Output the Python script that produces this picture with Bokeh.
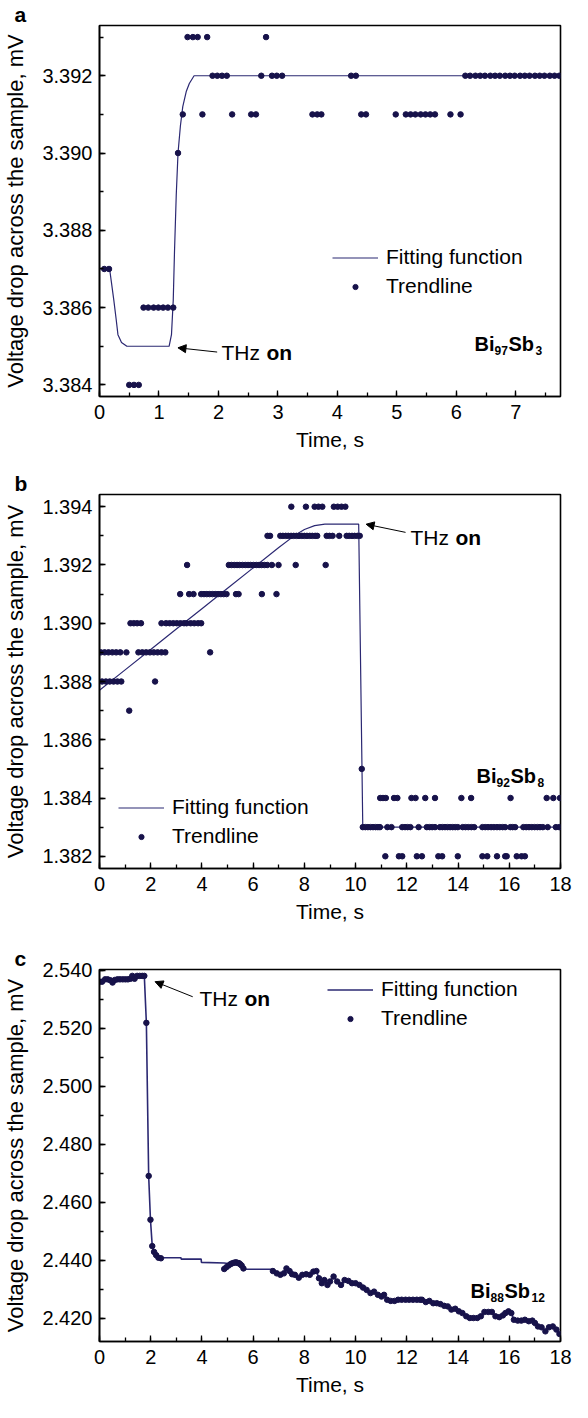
from bokeh.plotting import figure
from bokeh.layouts import column
from bokeh.models import (Range1d, SingleIntervalTicker, PrintfTickFormatter, Legend,
                          LegendItem, Label, Arrow, NormalHead)
from bokeh.embed import file_html
from bokeh.resources import INLINE

FONT = "Liberation Sans"
DOT = "#17124a"
LINE = "#2b2872"

# ---------------- Panel a : Bi97Sb3 ----------------
a_levels = [3.384, 3.386, 3.387, 3.390, 3.391, 3.392, 3.393]
a_times = [
    [0.50, 0.58, 0.66],
    [0.74, 0.82, 0.91, 0.99, 1.07, 1.15, 1.24],
    [0.08, 0.16],
    [1.32],
    [1.40, 1.73, 2.23, 2.55, 2.63, 3.58, 3.66, 3.73, 4.40, 4.48, 4.98, 5.15, 5.23,
     5.31, 5.40, 5.48, 5.56, 5.64, 5.90, 6.07],
    [1.90, 1.98, 2.06, 2.14, 2.72, 2.90, 2.98, 3.07, 4.23, 4.31, 6.15, 6.23, 6.32,
     6.40, 6.48, 6.57, 6.65, 6.73, 6.82, 6.90, 6.98, 7.07, 7.15, 7.23, 7.32, 7.40,
     7.48, 7.57, 7.65, 7.73],
    [1.48, 1.57, 1.65, 1.81, 2.80],
]
a_fit_t = [0.00, 0.17, 0.20, 0.24, 0.28, 0.31, 0.37, 0.46, 1.17, 1.21, 1.24, 1.26,
           1.29, 1.32, 1.36, 1.40, 1.46, 1.51, 1.59, 7.75]
a_fit_v = [3.3870, 3.3870, 3.38666, 3.3862, 3.3857, 3.3853, 3.3851, 3.3850, 3.3850,
           3.3853, 3.3862, 3.3874, 3.3889, 3.3900, 3.3907, 3.3912, 3.3916, 3.3918,
           3.3920, 3.3920]

# ---------------- Panel b : Bi92Sb8 ----------------
b_levels = [1.382, 1.383, 1.384, 1.385, 1.387, 1.388, 1.389, 1.390, 1.391, 1.392,
            1.393, 1.394]
b_times = [
    [11.16, 11.69, 11.82, 12.39, 12.59, 13.23, 13.38, 13.99, 14.95, 15.14, 15.52,
     15.84, 15.90, 16.29, 16.48, 16.61],
    [10.28, 10.38, 10.48, 10.58, 10.68, 10.78, 10.87, 10.95, 11.24, 11.40, 11.82,
     11.93, 12.03, 12.14, 12.46, 12.78, 12.89, 12.99, 13.10, 13.29, 13.39, 13.49,
     13.59, 13.69, 13.79, 13.89, 13.99, 14.18, 14.29, 14.40, 14.52, 14.63, 14.95,
     15.06, 15.17, 15.29, 15.40, 15.52, 15.63, 15.74, 15.84, 16.04, 16.13, 16.23,
     16.55, 16.66, 16.77, 16.88, 16.99, 17.10, 17.20, 17.31, 17.50, 17.82, 17.95],
    [10.96, 11.07, 11.18, 11.50, 11.63, 12.18, 12.34, 12.72, 13.10, 14.13, 14.51,
     16.05, 17.46, 17.72, 17.98],
    [10.24],
    [1.16],
    [0.10, 0.25, 0.40, 0.55, 0.70, 0.85, 2.17],
    [0.05, 0.20, 0.35, 0.50, 0.65, 0.81, 1.05, 1.52, 1.67, 1.82, 1.97, 2.12, 2.27,
     2.42, 2.57, 4.32],
    [1.21, 1.34, 1.47, 1.62, 2.42, 2.60, 2.74, 2.88, 3.02, 3.16, 3.30, 3.40, 3.56,
     3.70, 3.85, 3.97],
    [3.15, 3.50, 3.67, 3.97, 4.08, 4.19, 4.30, 4.41, 4.52, 4.63, 4.74, 4.85, 4.96,
     5.33, 5.43, 6.34, 6.91],
    [3.42, 5.05, 5.15, 5.26, 5.37, 5.47, 5.58, 5.69, 5.80, 5.90, 6.01, 6.12, 6.23,
     6.33, 6.44, 6.55, 6.73, 6.99, 7.66, 8.83],
    [6.56, 6.66, 7.06, 7.16, 7.27, 7.37, 7.48, 7.58, 7.69, 7.79, 7.90, 8.00, 8.10,
     8.21, 8.31, 8.42, 8.50, 8.87, 8.98, 9.10, 9.36, 9.65, 9.75, 9.86, 9.96, 10.07,
     10.16],
    [7.49, 8.06, 8.40, 8.55, 8.70, 9.15, 9.30, 9.45, 9.60],
]
b_fit_t = [0.0, 1.0, 2.0, 3.0, 4.0, 5.0, 6.0, 7.0, 7.6, 8.0, 8.4, 8.8, 10.12, 10.28, 18.0]
b_fit_v = [1.3877, 1.3884, 1.3891, 1.3898, 1.3905, 1.3912, 1.3919, 1.3926, 1.3930,
           1.39322, 1.39335, 1.3934, 1.3934, 1.3830, 1.3830]

# ---------------- Panel c : Bi88Sb12 ----------------
c_start_t = [0.00, 0.10, 0.22, 0.32, 0.42, 0.51, 0.60, 0.70, 0.80, 0.91, 1.01, 1.11,
             1.21, 1.28, 1.37, 1.47, 1.57, 1.67, 1.75, 1.83, 1.92, 1.99, 2.06, 2.13,
             2.21, 2.30, 2.40]
c_start_v = [2.5360, 2.5360, 2.5368, 2.5368, 2.5365, 2.5357, 2.5366, 2.5368, 2.5368,
             2.5368, 2.5368, 2.5368, 2.5370, 2.5380, 2.5370, 2.5380, 2.5380, 2.5380,
             2.5380, 2.5218, 2.4690, 2.4539, 2.4448, 2.4428, 2.4417, 2.4408, 2.4406]
c_mid_t = [4.87, 4.95, 5.04, 5.12, 5.19, 5.26, 5.33, 5.40, 5.45, 5.50, 5.55, 5.62]
c_mid_v = [2.4369, 2.4375, 2.4381, 2.4386, 2.4389, 2.4391, 2.4392, 2.4390, 2.4389,
           2.4385, 2.4381, 2.4371]
c_late_t = [6.77, 6.92, 7.06, 7.20, 7.30, 7.42, 7.52, 7.63, 7.78, 7.92, 8.07, 8.21,
            8.35, 8.47, 8.57, 8.68, 8.78, 8.90, 9.00, 9.14, 9.28, 9.43, 9.57, 9.72,
            9.86, 10.00, 10.15, 10.29, 10.43, 10.58, 10.72, 10.87, 11.01, 11.11, 11.23,
            11.37, 11.52, 11.66, 11.80, 11.95, 12.09, 12.24, 12.39, 12.52, 12.59, 12.74,
            12.88, 13.03, 13.17, 13.31, 13.46, 13.60, 13.74, 13.89, 14.03, 14.17, 14.32,
            14.46, 14.60, 14.75, 14.89, 15.03, 15.18, 15.32, 15.46, 15.61, 15.75, 15.85,
            15.97, 16.08, 16.18, 16.33, 16.47, 16.61, 16.76, 16.90, 17.00, 17.12, 17.26,
            17.41, 17.55, 17.70, 17.84, 17.96]
c_late_v = [2.4362, 2.4354, 2.4349, 2.4354, 2.4371, 2.4362, 2.4351, 2.4349, 2.4339,
            2.4349, 2.4351, 2.4349, 2.4360, 2.4362, 2.4337, 2.4320, 2.4331, 2.4314,
            2.4326, 2.4343, 2.4326, 2.4314, 2.4331, 2.4328, 2.4320, 2.4320, 2.4314,
            2.4305, 2.4297, 2.4286, 2.4291, 2.4280, 2.4274, 2.4280, 2.4263, 2.4259,
            2.4259, 2.4263, 2.4263, 2.4263, 2.4263, 2.4263, 2.4263, 2.4263, 2.4263,
            2.4255, 2.4259, 2.4251, 2.4251, 2.4248, 2.4242, 2.4240, 2.4229, 2.4232,
            2.4223, 2.4217, 2.4206, 2.4200, 2.4200, 2.4200, 2.4206, 2.4221, 2.4221,
            2.4221, 2.4206, 2.4203, 2.4209, 2.4217, 2.4223, 2.4217, 2.4194, 2.4191,
            2.4191, 2.4194, 2.4189, 2.4191, 2.4183, 2.4171, 2.4168, 2.4154, 2.4168,
            2.4171, 2.4160, 2.4145]
c_plateau_t = [2.40, 3.18, 3.19, 3.97, 3.98, 4.87, 5.62, 5.66, 6.70]
c_plateau_v = [2.4408, 2.4408, 2.4403, 2.4403, 2.4392, 2.4390, 2.4380, 2.4368, 2.4368]


def flatten(levels, times):
    ts, vs = [], []
    for lv, tl in zip(levels, times):
        ts += tl
        vs += [lv] * len(tl)
    return ts, vs


def make_fig(letter, height, top, bottom, xr, yr, x_int, y_int):
    p = figure(width=572, height=height, output_backend="svg", toolbar_location=None,
               x_range=Range1d(*xr), y_range=Range1d(*yr),
               min_border_left=96, min_border_right=12,
               min_border_top=top, min_border_bottom=bottom)
    p.title.text = letter
    p.title.align = "left"
    p.title.offset = -85
    p.title.standoff = 0
    p.title.text_font = FONT
    p.title.text_font_size = "21px"
    p.title.text_font_style = "bold"
    p.title.text_color = "black"
    p.background_fill_color = "white"
    p.border_fill_color = "white"
    p.outline_line_color = "black"
    p.outline_line_width = 1.6
    p.xgrid.visible = False
    p.ygrid.visible = False
    p.xaxis.ticker = SingleIntervalTicker(interval=x_int, num_minor_ticks=2)
    p.yaxis.ticker = SingleIntervalTicker(interval=y_int, num_minor_ticks=2)
    p.xaxis.formatter = PrintfTickFormatter(format="%d")
    p.yaxis.formatter = PrintfTickFormatter(format="%.3f")
    p.xaxis.axis_label = "Time, s"
    p.yaxis.axis_label = "Voltage drop across the sample, mV"
    for ax in (p.xaxis[0], p.yaxis[0]):
        ax.major_tick_in = 6
        ax.major_tick_out = 0
        ax.minor_tick_in = 4
        ax.minor_tick_out = 0
        ax.major_tick_line_width = 1.3
        ax.minor_tick_line_width = 1.3
        ax.major_tick_line_color = "black"
        ax.minor_tick_line_color = "black"
        ax.axis_line_width = 1.6
        ax.axis_line_color = "black"
        ax.major_label_text_font = FONT
        ax.major_label_text_font_size = "20px"
        ax.major_label_text_color = "black"
        ax.axis_label_text_font = FONT
        ax.axis_label_text_font_size = "21px"
        ax.axis_label_text_font_style = "normal"
        ax.axis_label_text_color = "black"
    p.yaxis.axis_label_text_font_size = "22px"
    p.xaxis.major_label_standoff = 8
    p.xaxis.axis_label_standoff = 6
    p.yaxis.major_label_standoff = 7
    p.yaxis.axis_label_standoff = 11
    return p


def add_series(p, fit_t, fit_v, dot_t, dot_v, lw, loc):
    rl = p.line(fit_t, fit_v, line_color=LINE, line_width=lw)
    rd = p.scatter(dot_t, dot_v, size=5.5, fill_color=DOT, line_color=DOT)
    leg = Legend(items=[LegendItem(label="Fitting function", renderers=[rl]),
                        LegendItem(label="Trendline", renderers=[rd])],
                 location=loc, padding=0, margin=0, spacing=5,
                 glyph_width=46, glyph_height=13, label_height=22, label_standoff=8,
                 label_text_font=FONT, label_text_font_size="21px",
                 label_text_color="black", border_line_color=None,
                 background_fill_alpha=0)
    p.add_layout(leg)


def annotate(p, xr, thz_text, arrow, formula, fy):
    tx, ty = thz_text
    p.add_layout(Label(x=tx, y=ty, text="THz", text_font=FONT, text_font_size="21px",
                       text_color="black", text_baseline="middle"))
    p.add_layout(Label(x=tx, y=ty, x_offset=45, text="on", text_font=FONT,
                       text_font_size="21px", text_font_style="bold",
                       text_color="black", text_baseline="middle"))
    xs, ys, xe, ye = arrow
    p.add_layout(Arrow(end=NormalHead(size=8, fill_color="black", line_color="black",
                                      line_width=1),
                       x_start=xs, y_start=ys, x_end=xe, y_end=ye,
                       line_color="black", line_width=1))
    fx_off, parts = formula
    off = fx_off
    for txt, sub, w in parts:
        p.add_layout(Label(x=xr[1], y=fy, x_offset=off, y_offset=-7 if sub else 0,
                           text=txt, text_font=FONT,
                           text_font_size="12px" if sub else "20px",
                           text_font_style="bold", text_color="black",
                           text_baseline="alphabetic"))
        off += w


# ---- panel a
xa, ya = (0, 7.75), (3.3837, 3.3933)
pa = make_fig("a", 462, 14, 66, xa, ya, 1, 0.002)
at, av = flatten(a_levels, a_times)
add_series(pa, a_fit_t, a_fit_v, at, av, 1.2, (233, 98))
annotate(pa, xa, (2.05, 3.38483), (1.978, 3.38485, 1.319, 3.38496),
         (-86, [("Bi", False, 20), ("97", True, 14), ("Sb", False, 27), ("3", True, 8)]),
         3.38506)

# ---- panel b
xb, yb = (0, 18), (1.38158, 1.39442)
pb = make_fig("b", 472, 32, 66, xb, yb, 2, 0.002)
bt, bv = flatten(b_levels, b_times)
add_series(pb, b_fit_t, b_fit_v, bt, bv, 1.2, (19, 20))
annotate(pb, xb, (12.14, 1.39295), (11.95, 1.39312, 10.41, 1.39340),
         (-84, [("Bi", False, 20), ("92", True, 14), ("Sb", False, 27), ("8", True, 8)]),
         1.38476)

# ---- panel c
xc, yc = (0, 18), (2.4119, 2.5402)
pc = make_fig("c", 468, 35, 61, xc, yc, 2, 0.02)
c_dot_t = c_start_t + c_mid_t + c_late_t
c_dot_v = c_start_v + c_mid_v + c_late_v
c_fit_t = c_start_t + c_plateau_t + c_late_t
c_fit_v = c_start_v + c_plateau_v + c_late_v
add_series(pc, c_fit_t, c_fit_v, c_dot_t, c_dot_v, 1.6, (228, 311))
annotate(pc, xc, (3.90, 2.5303), (3.64, 2.5308, 2.17, 2.5360),
         (-90, [("Bi", False, 20), ("88", True, 14), ("Sb", False, 27), ("12", True, 14)]),
         2.42937)

layout = column(pa, pb, pc)
open("out.html", "w").write(file_html(layout, INLINE))
